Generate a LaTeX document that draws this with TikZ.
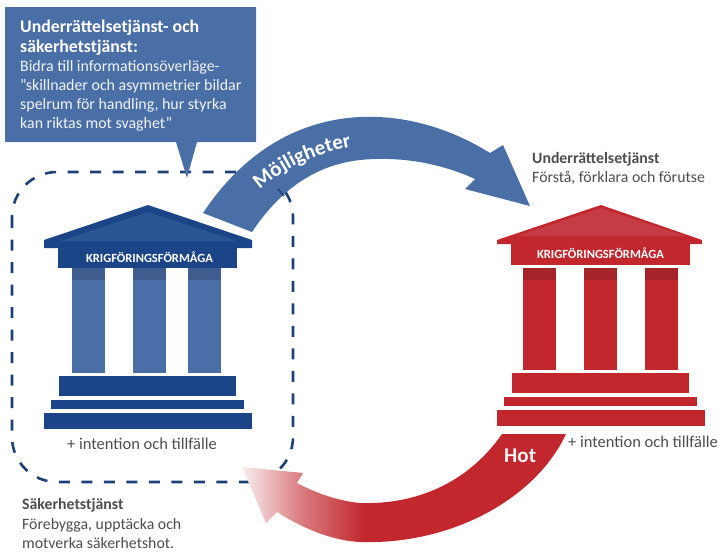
\documentclass[tikz,border=0pt]{standalone}
\usepackage{fontspec}
\setmainfont{Carlito}
\usetikzlibrary{decorations.text}
\definecolor{bandblue}{HTML}{4A6EA6}
\definecolor{deepblue}{HTML}{1B4587}
\definecolor{roofblue}{HTML}{2C5593}
\definecolor{colblue}{HTML}{4A6EA6}
\definecolor{capblue}{HTML}{3F5C8E}
\definecolor{dashblue}{HTML}{1F3F77}
\definecolor{deepred}{HTML}{C1272D}
\definecolor{roofred}{HTML}{C63C44}
\definecolor{capred}{HTML}{A52328}
\definecolor{txt}{HTML}{4D4D4D}
\pgfdeclarehorizontalshading{redfade}{100bp}{color(0bp)=(red!5!white); color(25bp)=(deepred!8!white); color(34bp)=(deepred!60!white); color(44bp)=(deepred); color(100bp)=(deepred)}
\tikzset{
  x=1pt,y=-1pt,
  lbl/.style={anchor=base west,inner sep=0pt,text=txt,font=\fontsize{15.8}{18}\selectfont},
  lblb/.style={lbl,font=\fontsize{15.8}{18}\selectfont\bfseries},
  captxt/.style={anchor=base,inner sep=0pt,text=txt,font=\fontsize{16.5}{18}\selectfont},
  frieze/.style={anchor=center,inner sep=0pt,text=white,font=\fontsize{12.5}{13}\selectfont\bfseries},
  callh/.style={anchor=base west,inner sep=0pt,text=white,font=\fontsize{17.8}{19}\selectfont\bfseries},
  callb/.style={anchor=base west,inner sep=0pt,text=white!92!bandblue,font=\fontsize{15.9}{19}\selectfont},
}
\newcommand{\temple}[8]{% dx dy main col cap coltop colxs frieze-top
  \begin{scope}[shift={(#1,#2)}]
    \fill[#3] (14,#8) rectangle (193,63);
    \foreach \cx in {#7} {
      \fill[#4] (\cx,#6) rectangle (\cx+33,168);
      \fill[#5] (\cx,#6) rectangle (\cx+33,#6+12);
    }
    \fill[#3] (15,171) rectangle (192,191);
    \fill[#3] (7,195) rectangle (200,204);
    \fill[#3] (0,208) rectangle (208,224);
  \end{scope}
}
\begin{document}
\begin{tikzpicture}
\useasboundingbox (0,0) rectangle (720,555);
% dashed frame
\draw[dashblue,line width=2.6pt,dash pattern=on 11pt off 11.5pt,rounded corners=45pt] (12,172) rectangle (293,482);
% callout
\fill[bandblue] (5,7) -- (256,7) -- (256,142) -- (197,142) -- (187,178) -- (176,142) -- (5,142) -- cycle;
\node[callh] (c1) at (20,32) {Underrättelsetjänst- och};
\node[callh] (c2) at (20,52) {säkerhetstjänst:};
\node[callb] (c3) at (20,71) {Bidra till informationsöverläge-};
\node[callb] (c4) at (20,90) {”skillnader och asymmetrier bildar};
\node[callb] (c5) at (20,109) {spelrum för handling, hur styrka};
\node[callb] (c6) at (20,128) {kan riktas mot svaghet”};
% temples
\fill[deepblue] (44,240) -- (148,205) -- (252,240) -- (252,248) -- (44,248) -- cycle;
\fill[roofblue] (60,241) -- (148,212) -- (237,241) -- cycle;
\temple{44}{205}{deepblue}{colblue}{capblue}{63}{28,89,144}{43}
\fill[deepred] (497,240) -- (601,205) -- (702,240) -- (702,244) -- (497,244) -- cycle;
\fill[roofred] (517,236) -- (601,208) -- (685,236) -- cycle;
\temple{497}{202}{deepred}{deepred}{capred}{66}{26,87,148}{42}
\node[frieze] (f1) at (149.5,257) {KRIGFÖRINGSFÖRMÅGA};
\node[frieze] (f2) at (600.5,253) {KRIGFÖRINGSFÖRMÅGA};
% blue arrow
\fill[bandblue] (203,213) .. controls (245,150) and (300,120) .. (360,117)
  .. controls (405,115) and (450,128) .. (490,153) -- (503,145) -- (530,206) -- (465,189) -- (475,179)
  .. controls (440,163) and (400,156) .. (360,160) .. controls (315,165) and (280,190) .. (252,232) -- cycle;
\draw[dashblue,line width=2.2pt,opacity=.75] (278,189) -- (284,196);
\path[decorate,decoration={text along path,text align=center,text color=white,
  text={|\fontsize{21}{22}\selectfont\bfseries|Möjligheter}}]
  (252,197) .. controls (279,170) and (314,152) .. (362,145);
% red arrow
\shade[shading=redfade] (502,434) -- (566,434) .. controls (535,500) and (450,545) .. (360,542)
  .. controls (335,541) and (305,530) .. (277,512) -- (266,523) -- (242,467) -- (303,473) -- (297,483)
  .. controls (320,495) and (340,501) .. (360,503) .. controls (420,505) and (470,480) .. (502,434) -- cycle;
\node[anchor=base west,inner sep=0pt,text=white!95!deepred,font=\fontsize{21}{22}\selectfont\bfseries] (hot) at (504,462) {Hot};
% captions
\node[captxt] (i1) at (142,449) {+ intention och tillfälle};
\node[captxt] (i2) at (643,447) {+ intention och tillfälle};
\node[lblb] (u1) at (532,163) {Underrättelsetjänst};
\node[lbl] (u2) at (532,182) {Förstå, förklara och förutse};
\node[lblb] (s1) at (22,509) {Säkerhetstjänst};
\node[lbl] (s2) at (22,529) {Förebygga, upptäcka och};
\node[lbl] (s3) at (22,548) {motverka säkerhetshot.};
\end{tikzpicture}
\end{document}
